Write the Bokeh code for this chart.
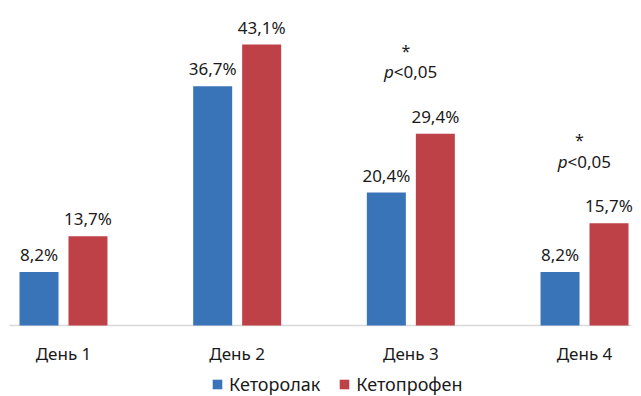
from bokeh.plotting import figure
from bokeh.models import ColumnDataSource, Range1d, Legend, LegendItem
from bokeh.core.properties import value
from bokeh.embed import file_html
from bokeh.resources import INLINE

# Data
days = ["День 1", "День 2", "День 3", "День 4"]
ketorolac = [8.2, 36.7, 20.4, 8.2]
ketoprofen = [13.7, 43.1, 29.4, 15.7]
series_names = ["Кеторолак", "Кетопрофен"]
significant = [False, False, True, True]

BLUE = "#3A74B8"
RED = "#BF4148"
FONT = "Noto Sans"
TXT = "#1a1a1a"
FS = "17px"

def fmt(v):
    return f"{v:.1f}".replace(".", ",") + "%"

x = list(range(len(days)))
offset = 0.141
bar_w = 0.2245

p = figure(width=641, height=396, output_backend="svg", toolbar_location=None,
           x_range=Range1d(-0.3627, 3.3281), y_range=Range1d(-10.89, 49.85),
           min_border=0)
p.outline_line_color = None
p.grid.visible = False
p.axis.visible = False
p.background_fill_color = "white"
p.border_fill_color = "white"

# category baseline
p.segment(x0=[x[0] - 0.311], x1=[x[-1] + 0.270], y0=[0], y1=[0],
          line_color="#d9d9d9", line_width=1.5)

# category labels under the baseline
cat_src = ColumnDataSource(dict(x=x, y=[0] * len(x), lbl=days))
p.text(x="x", y="y", text="lbl", source=cat_src, text_align="center",
       text_baseline="middle", y_offset=28, text_font=value(FONT),
       text_font_size=FS, text_color=TXT)

src_a = ColumnDataSource(dict(x=[i - offset for i in x], top=ketorolac,
                              lbl=[fmt(v) for v in ketorolac]))
src_b = ColumnDataSource(dict(x=[i + offset for i in x], top=ketoprofen,
                              lbl=[fmt(v) for v in ketoprofen]))

r_a = p.vbar(x="x", top="top", width=bar_w, source=src_a, fill_color=BLUE, line_color=None)
r_b = p.vbar(x="x", top="top", width=bar_w, source=src_b, fill_color=RED, line_color=None)

for src in (src_a, src_b):
    p.text(x="x", y="top", text="lbl", source=src, text_align="center",
           text_baseline="bottom", y_offset=-6, text_font=value(FONT),
           text_font_size=FS, text_color=TXT)

# significance marks above the pairs
sig_x = [i for i, s in zip(x, significant) if s]
sig_top = [ketoprofen[i] for i, s in zip(x, significant) if s]
sig_src = ColumnDataSource(dict(x=sig_x, y=sig_top))
p.text(x="x", y="y", text=value("p"), source=sig_src, text_align="right",
       text_baseline="middle", x_offset=-17, y_offset=-62, text_font=value(FONT),
       text_font_style="italic", text_font_size=FS, text_color=TXT)
p.text(x="x", y="y", text=value("<0,05"), source=sig_src, text_align="left",
       text_baseline="middle", x_offset=-17, y_offset=-62, text_font=value(FONT),
       text_font_size=FS, text_color=TXT)
p.text(x="x", y="y", text=value("*"), source=sig_src, text_align="center",
       text_baseline="middle", x_offset=-5, y_offset=-83, text_font=value(FONT),
       text_font_size="16px", text_color=TXT)

legend = Legend(items=[LegendItem(label=series_names[0], renderers=[r_a]),
                       LegendItem(label=series_names[1], renderers=[r_b])],
                orientation="horizontal", location=(211, 0),
                label_text_font=FONT, label_text_font_size="18px",
                label_text_color=TXT, glyph_width=12, glyph_height=12,
                label_standoff=6, spacing=18, padding=2, margin=0,
                border_line_color=None, background_fill_alpha=0)
p.add_layout(legend)

open("out.html", "w").write(file_html(p, INLINE))
